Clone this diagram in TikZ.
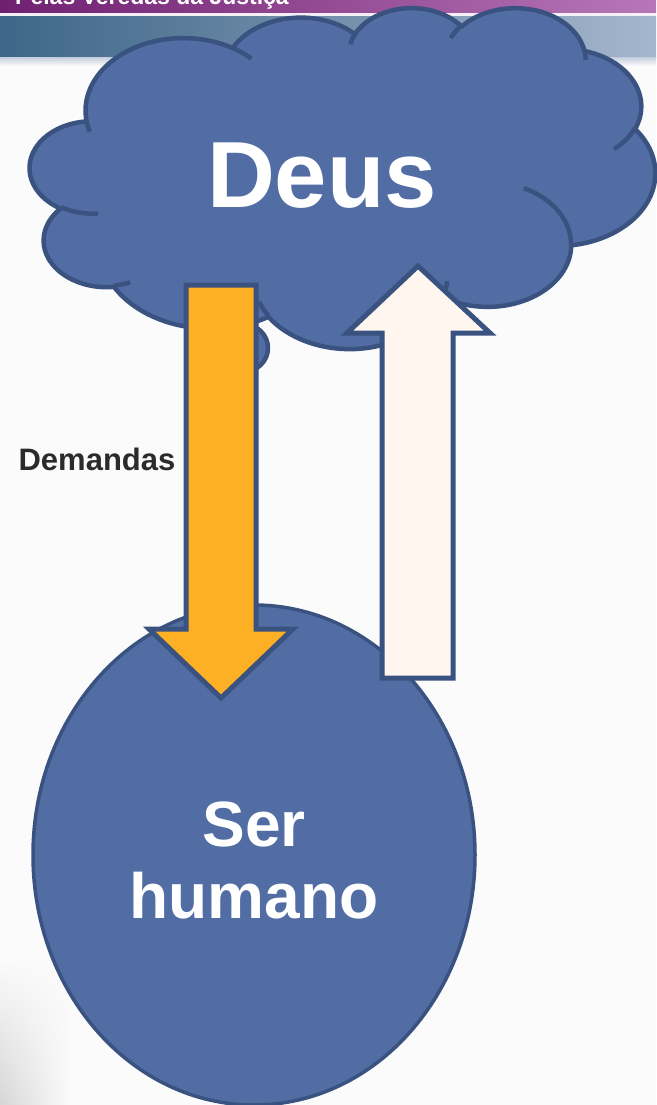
\documentclass[tikz,border=0pt]{standalone}
\usepackage{fontspec}
\setmainfont{Liberation Sans}
\usetikzlibrary{shapes.geometric,fadings}
\definecolor{cloudfill}{RGB}{81,109,163}
\definecolor{edgeblue}{RGB}{58,82,128}
\definecolor{arroworange}{RGB}{253,176,35}
\definecolor{arrowcream}{RGB}{255,246,240}
\definecolor{labelgray}{RGB}{43,43,43}
\definecolor{bandpurpleL}{RGB}{112,32,112}
\definecolor{bandpurpleR}{RGB}{184,118,184}
\definecolor{bandblueL}{RGB}{62,102,136}
\definecolor{bandblueR}{RGB}{164,182,204}
\begin{document}
\begin{tikzpicture}[x=1pt,y=-1pt,
  declare function={
    vp(\w,\h,\a)=atan2(\w*sin(\a),\h*cos(\a));
    nd(\d,\s)=\d-360*round((\d-\s)/360);
    dp(\w,\h,\a,\s)=nd(vp(\w,\h,\a+\s)-vp(\w,\h,\a),\s);
  },
  shapeedge/.style={draw=edgeblue, line width=4.5pt},
  cloudbody/.style={shapeedge, fill=cloudfill, line join=round},
  blockarrow/.style={draw=edgeblue, line width=5pt, line join=miter},
  bigwhite/.style={text=white, font=\bfseries}
]
\useasboundingbox (0,0) rectangle (656,1105);
% background
\begin{scope}
\clip (0,0) rectangle (656,1105);
\fill[white!97!gray] (0,0) rectangle (656,1105);
\shade[left color=black!16, right color=white!97!gray, path fading=north] (0,960) rectangle (70,1105);
\shade[left color=bandpurpleL, right color=bandpurpleR] (0,0) rectangle (656,13);
\fill[white!88!bandpurpleR] (0,13) rectangle (656,17);
\shade[left color=bandblueL, right color=bandblueR] (0,17) rectangle (656,58);
\shade[top color=bandblueR!60!white, bottom color=white!97!gray] (0,58) rectangle (656,66);
\node[anchor=base west, inner sep=0, text=white, font=\bfseries\fontsize{23}{23}\selectfont] (title) at (15,5) {Pelas Veredas da Justiça};
\end{scope}
% cloud (callout bubble first)
\draw[cloudbody] (243,348) ellipse [x radius=25, y radius=24];
\begin{scope}[shift={(30,7)}, x=0.1447pt, y=-0.0789pt]
\draw[cloudbody] (390,1437)
  arc[x radius=675.3, y radius=919.0, start angle={vp(675.3,919.0,-190.4875)}, delta angle={dp(675.3,919.0,-190.4875,123.7805)}]
  arc[x radius=533.3, y radius=726.7, start angle={vp(533.3,726.7,-144.1024)}, delta angle={dp(533.3,726.7,-144.1024,89.9452)}]
  arc[x radius=436.5, y radius=594.5, start angle={vp(436.5,594.5,-145.8079)}, delta angle={dp(436.5,594.5,-145.8079,99.7230)}]
  arc[x radius=485.7, y radius=659.5, start angle={vp(485.7,659.5,-130.9861)}, delta angle={dp(485.7,659.5,-130.9861,117.2417)}]
  arc[x radius=533.3, y radius=727.3, start angle={vp(533.3,727.3,-78.7089)}, delta angle={dp(533.3,727.3,-78.7089,109.0269)}]
  arc[x radius=677.5, y radius=922.0, start angle={vp(677.5,922.0,-46.2673)}, delta angle={dp(677.5,922.0,-46.2673,130.2690)}]
  arc[x radius=578.5, y radius=786.7, start angle={vp(578.5,786.7,0.6250)}, delta angle={dp(578.5,786.7,0.6250,114.0333)}]
  arc[x radius=675.2, y radius=921.5, start angle={vp(675.2,921.5,22.4516)}, delta angle={dp(675.2,921.5,22.4516,115.1726)}]
  arc[x radius=772.0, y radius=1054.3, start angle={vp(772.0,1054.3,66.2426)}, delta angle={dp(772.0,1054.3,66.2426,75.7110)}]
  arc[x radius=436.0, y radius=591.8, start angle={vp(436.0,591.8,-274.9421)}, delta angle={dp(436.0,591.8,-274.9421,146.7356)}]
  arc[x radius=434.5, y radius=594.5, start angle={vp(434.5,594.5,-246.8285)}, delta angle={dp(434.5,594.5,-246.8285,152.5189)}]
  -- cycle;
\draw[shapeedge, line cap=butt]
  (469.3,2617.7) arc[x radius=434.5, y radius=594.5, start angle={vp(434.5,594.5,86.7420)}, delta angle={dp(434.5,594.5,86.7420,26.4295)}]
  (692.8,3489.9) arc[x radius=436.0, y radius=591.8, start angle={vp(436.0,591.8,73.6105)}, delta angle={dp(436.0,591.8,73.6105,11.4475)}]
  (1647.8,3909.0) arc[x radius=675.2, y radius=921.5, start angle={vp(675.2,921.5,137.6242)}, delta angle={dp(675.2,921.5,137.6242,14.0811)}]
  (2882.7,3475.1) arc[x radius=675.2, y radius=921.5, start angle={vp(675.2,921.5,6.4533)}, delta angle={dp(675.2,921.5,6.4533,15.9984)}]
  (3412.9,2295.4) arc[x radius=578.5, y radius=786.7, start angle={vp(578.5,786.7,-70.2924)}, delta angle={dp(578.5,786.7,-70.2924,70.9174)}]
  (4179.8,1535.4) arc[x radius=533.3, y radius=727.3, start angle={vp(533.3,727.3,30.3180)}, delta angle={dp(533.3,727.3,30.3180,27.7515)}]
  (3832.4,542.6) arc[x radius=485.7, y radius=659.5, start angle={vp(485.7,659.5,-13.7443)}, delta angle={dp(485.7,659.5,-13.7443,14.8589)}]
  (2907.8,395.2) arc[x radius=485.7, y radius=659.5, start angle={vp(485.7,659.5,-149.1815)}, delta angle={dp(485.7,659.5,-149.1815,18.1954)}]
  (2214.1,472.0) arc[x radius=436.5, y radius=594.5, start angle={vp(436.5,594.5,-163.4943)}, delta angle={dp(436.5,594.5,-163.4943,19.0023)}]
  (1400.0,519.2) arc[x radius=675.3, y radius=919.0, start angle={vp(675.3,919.0,-66.7070)}, delta angle={dp(675.3,919.0,-66.7070,12.3194)}]
  (412.7,1578.9) arc[x radius=675.3, y radius=919.0, start angle={vp(675.3,919.0,157.6544)}, delta angle={dp(675.3,919.0,157.6544,11.8582)}];
\end{scope}
\node[bigwhite, font=\bfseries\fontsize{94}{94}\selectfont] (deus) at (322,176) {Deus};
% human ellipse
\node[ellipse, draw=edgeblue, line width=3.5pt, fill=cloudfill, minimum width=442pt, minimum height=500pt, inner sep=0] (human) at (254,855) {};
\node[bigwhite, align=center, font=\bfseries\fontsize{64}{72}\selectfont] (humanlabel) at (254,860) {Ser\\humano};
% arrows
\draw[blockarrow, fill=arroworange] (186,285) -- (256,285) -- (256,629) -- (293,629) -- (221,698) -- (149,629) -- (186,629) -- cycle;
\draw[blockarrow, fill=arrowcream] (418,266) -- (490,333) -- (453,333) -- (453,678) -- (382,678) -- (382,333) -- (347,333) -- cycle;
\node[text=labelgray, font=\bfseries\fontsize{31}{31}\selectfont] (demandas) at (97,459) {Demandas};
\end{tikzpicture}
\end{document}
